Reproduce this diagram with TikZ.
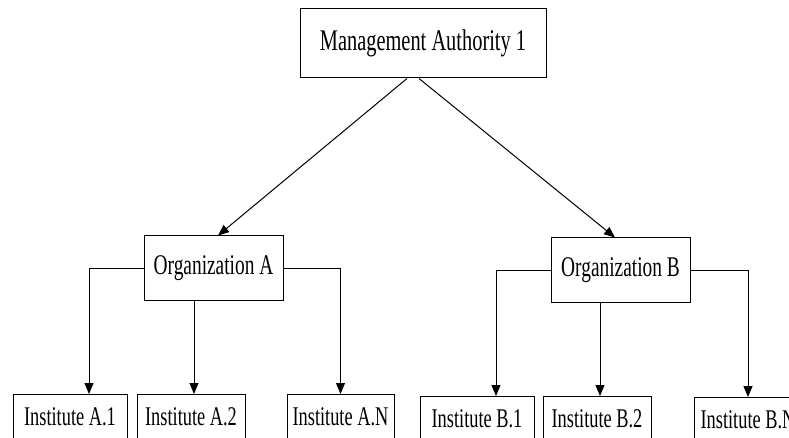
\documentclass[tikz,border=0pt]{standalone}
\usepackage{fontspec}
\setmainfont{Liberation Serif}[FakeStretch=0.68]
\usetikzlibrary{arrows.meta}

\begin{document}
\begin{tikzpicture}[
    x=1pt, y=-1pt,
    every node/.style={draw, line width=1pt, inner sep=0pt},
    authbox/.style={minimum width=246pt, minimum height=69pt, font=\fontsize{30}{36}\selectfont},
    orgbox/.style={minimum width=139pt, minimum height=64pt, font=\fontsize{28.5}{34}\selectfont},
    instbox/.style={anchor=north, text height=31pt, text depth=33pt, font=\fontsize{27}{32}\selectfont},
    link/.style={line width=1pt, -{Triangle[length=11pt, width=9pt]}}
]
\useasboundingbox (0,0) rectangle (789,438);
\clip (0,0) rectangle (789,438);
\node[authbox] (auth) at (423,43.5) {Management Authority 1};
\node[orgbox] (orgA) at (213.5,268) {Organization A};
\node[orgbox] (orgB) at (620.5,270) {Organization B};
\node[instbox, minimum width=114pt] (instA1) at (70,394) {Institute A.1};
\node[instbox, minimum width=108pt] (instA2) at (191,394) {Institute A.2};
\node[instbox, minimum width=107pt] (instAN) at (340.5,394) {Institute A.N};
\node[instbox, minimum width=114pt] (instB1) at (477,396) {Institute B.1};
\node[instbox, minimum width=108pt] (instB2) at (597,396) {Institute B.2};
\node[instbox, minimum width=108pt] (instBN) at (748,397) {Institute B.N};
\draw[link] ([xshift=-16pt]auth.south) -- ([xshift=4.5pt]orgA.north);
\draw[link] ([xshift=-4pt]auth.south) -- ([xshift=-5.5pt]orgB.north);
\draw[link] (orgA.west) -| ([xshift=19pt]instA1.north);
\draw[link] (orgA.south -| instA2.north) ++(3pt,0) -- ([xshift=3pt]instA2.north);
\draw[link] (orgA.east) -| (instAN.north);
\draw[link] (orgB.west) -| ([xshift=19pt]instB1.north);
\draw[link] (orgB.south -| instB2.north) ++(3pt,0) -- ([xshift=3pt]instB2.north);
\draw[link] (orgB.east) -| (instBN.north);
\end{tikzpicture}
\end{document}
